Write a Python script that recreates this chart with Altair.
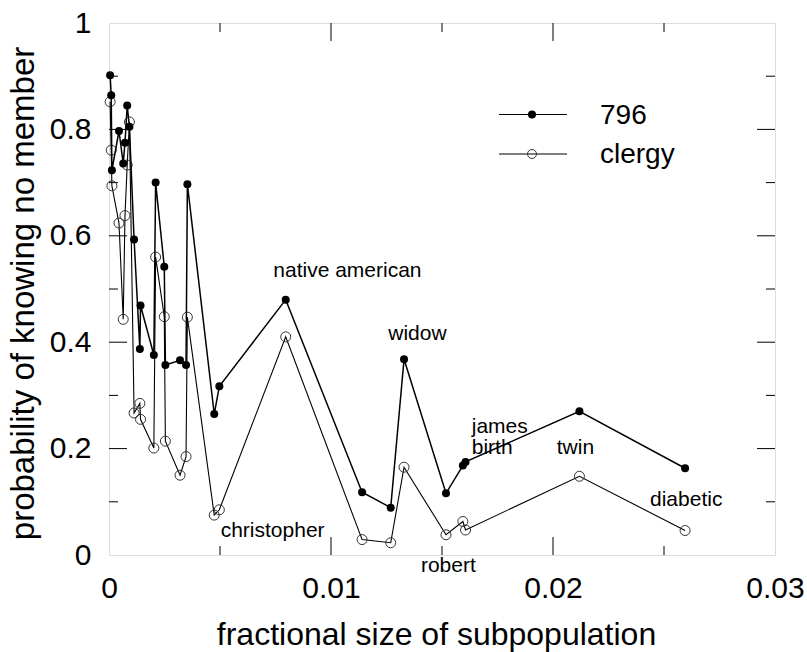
import altair as alt
import pandas as pd

# ---------------- data ----------------
sizes = [0.00005, 0.0001, 0.00013, 0.00045, 0.00064, 0.00072, 0.00082, 0.00092,
         0.00113, 0.00139, 0.00142, 0.00202, 0.0021, 0.00249, 0.00254, 0.0032,
         0.00347, 0.00353, 0.00474, 0.00497, 0.00796, 0.0114, 0.01269, 0.01329,
         0.01518, 0.01594, 0.01606, 0.02119, 0.02595]
p_796 = [0.902, 0.864, 0.723, 0.797, 0.736, 0.775, 0.845, 0.805,
         0.593, 0.387, 0.469, 0.376, 0.700, 0.542, 0.357, 0.366,
         0.357, 0.697, 0.265, 0.317, 0.480, 0.118, 0.089, 0.368,
         0.116, 0.168, 0.175, 0.270, 0.163]
p_clergy = [0.852, 0.761, 0.694, 0.624, 0.443, 0.638, 0.733, 0.814,
            0.267, 0.285, 0.255, 0.201, 0.560, 0.448, 0.214, 0.150,
            0.185, 0.447, 0.075, 0.085, 0.410, 0.029, 0.023, 0.165,
            0.038, 0.063, 0.047, 0.148, 0.046]
series_names = ["796", "clergy"]

label_text = ["native american", "widow", "christopher", "robert",
              "james", "birth", "twin", "diabetic"]
label_x = [0.0074, 0.01258, 0.00503, 0.01405, 0.01634, 0.01634, 0.02017, 0.02437]
label_y = [0.523, 0.405, 0.0333, -0.0314, 0.2286, 0.1897, 0.1897, 0.0926]

x_ticks = [0, 0.01, 0.02, 0.03]
y_ticks = [0, 0.2, 0.4, 0.6, 0.8, 1]
x_major = [0.01, 0.02]
x_minor = [0.005, 0.015, 0.025]
y_major = [0.2, 0.4, 0.6, 0.8]
y_minor = [0.1, 0.3, 0.5, 0.7, 0.9]

# ---------------- layout ----------------
W, H = 666, 532
FONT = "Liberation Sans"
MAJ, MIN = 18, 9

df796 = pd.DataFrame({"size": sizes, "prob": p_796, "idx": range(len(sizes))})
dfcl = pd.DataFrame({"size": sizes, "prob": p_clergy, "idx": range(len(sizes))})

xsc = alt.Scale(domain=[0, 0.03], nice=False, zero=False)
ysc = alt.Scale(domain=[0, 1], nice=False, zero=False)

x_axis = alt.Axis(values=x_ticks, format="~g", labelFontSize=30, labelFont=FONT,
                  labelColor="black", labelPadding=42, labelBaseline="alphabetic",
                  ticks=False, domain=False, grid=False,
                  labelFlush=False, labelOverlap=False,
                  titleFont=FONT,
                  titleFontSize=32, titleFontWeight="normal", titleColor="black",
                  titleBaseline="alphabetic", titleY=89, titleX=327)
y_axis = alt.Axis(values=y_ticks, format="~g", labelFontSize=30, labelFont=FONT,
                  labelColor="black", labelPadding=18, labelBaseline="middle",
                  ticks=False, domain=False, grid=False,
                  labelFlush=False, labelOverlap=False,
                  titleFont=FONT,
                  titleFontSize=33, titleFontWeight="normal", titleColor="black",
                  titleBaseline="alphabetic", titleX=-76, titleY=270)

XT = "fractional size of subpopulation"
YT = "probability of knowing no member"

def X(field):
    return alt.X(field, type="quantitative", scale=xsc, axis=x_axis, title=XT)

def Y(field):
    return alt.Y(field, type="quantitative", scale=ysc, axis=y_axis, title=YT)

line_cl = alt.Chart(dfcl).mark_line(color="black", strokeWidth=1.1).encode(
    x=X("size"), y=Y("prob"), order="idx:Q")
pts_cl = alt.Chart(dfcl).mark_point(shape="circle", filled=False, size=100,
                                    stroke="#333", strokeWidth=1, opacity=1).encode(
    x=X("size"), y=Y("prob"))
line_796 = alt.Chart(df796).mark_line(color="black", strokeWidth=1.5).encode(
    x=X("size"), y=Y("prob"), order="idx:Q")
pts_796 = alt.Chart(df796).mark_circle(size=64, color="black", opacity=1).encode(
    x=X("size"), y=Y("prob"))

# inward tick marks on all four sides
def xticks(vals, length, top):
    d = pd.DataFrame({"size": vals})
    y0, y1 = (0, length) if top else (H, H - length)
    return alt.Chart(d).mark_rule(color="black", strokeWidth=1).encode(
        x=X("size"), y=alt.value(y0), y2=alt.value(y1))

def yticks(vals, length, right):
    d = pd.DataFrame({"prob": vals})
    x0, x1 = (W, W - length) if right else (0, length)
    return alt.Chart(d).mark_rule(color="black", strokeWidth=1).encode(
        y=Y("prob"), x=alt.value(x0), x2=alt.value(x1))

ticks = [xticks(x_major, MAJ, False), xticks(x_minor, MIN, False),
         xticks(x_major, MAJ, True), xticks(x_minor, MIN, True),
         yticks(y_major, MAJ, False), yticks(y_minor, MIN, False),
         yticks(y_major, MAJ, True), yticks(y_minor, MIN, True)]

labels_df = pd.DataFrame({"t": label_text, "size": label_x, "prob": label_y})
labels = alt.Chart(labels_df).mark_text(align="left", baseline="alphabetic",
                                        font=FONT, fontSize=21, color="black").encode(
    x=X("size"), y=Y("prob"), text="t:N")

# legend drawn by hand
LX0, LX1, LM, LT = 390, 458, 423, 491
rows = [91.5, 131]
legend = []
for name, ly, filled in zip(series_names, rows, [True, False]):
    one = pd.DataFrame({"t": [name]})
    legend.append(alt.Chart(one).mark_rule(color="black", strokeWidth=1.2).encode(
        x=alt.value(LX0), x2=alt.value(LX1), y=alt.value(ly)))
    if filled:
        legend.append(alt.Chart(one).mark_circle(size=64, color="black", opacity=1).encode(
            x=alt.value(LM), y=alt.value(ly)))
    else:
        legend.append(alt.Chart(one).mark_point(shape="circle", filled=False, size=81,
                                                stroke="#333", strokeWidth=1, opacity=1).encode(
            x=alt.value(LM), y=alt.value(ly)))
    legend.append(alt.Chart(one).mark_text(align="left", baseline="middle", font=FONT,
                                           fontSize=28, color="black").encode(
        x=alt.value(LT), y=alt.value(ly + 1), text="t:N"))

chart = alt.layer(line_cl, *ticks, pts_cl, line_796, pts_796, labels, *legend).properties(
    width=W, height=H,
    autosize=alt.AutoSizeParams(type="none"),
    padding={"left": 109, "top": 23, "right": 807 - 109 - W, "bottom": 652 - 23 - H},
).configure_view(stroke="#222", strokeWidth=1.2).configure(background="white")

chart.save("out.html", embed_options={"renderer": "svg", "actions": False})
